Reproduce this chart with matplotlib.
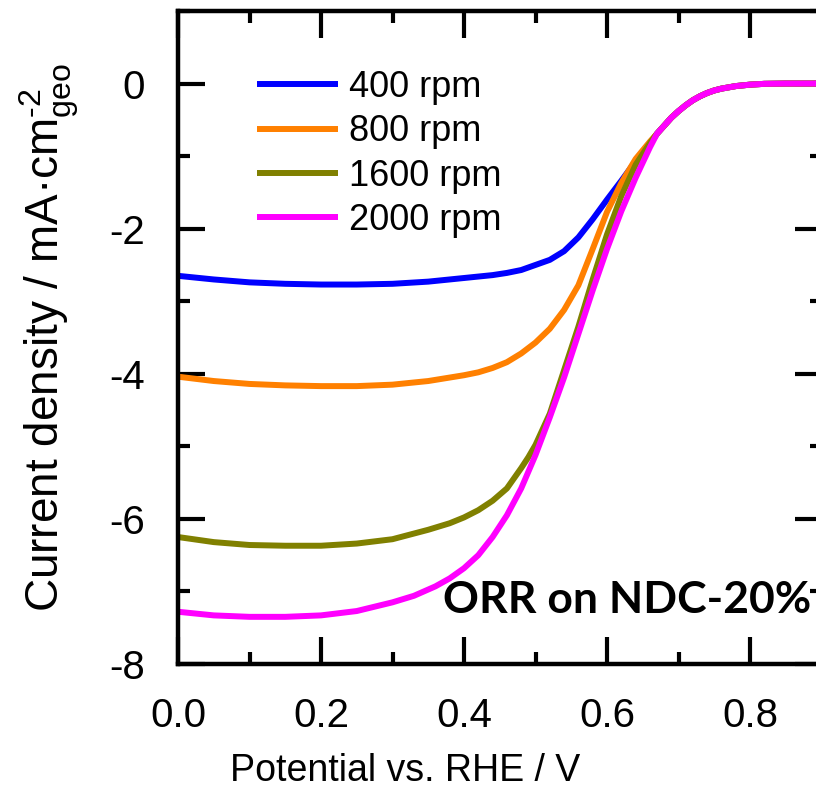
"""ORR polarisation curves on NDC-20% at several rotation rates"""

import numpy as np
import matplotlib
matplotlib.use('Agg')
import matplotlib.pyplot as plt

plt.rcParams['font.family'] = ['Liberation Sans', 'DejaVu Sans']
plt.rcParams['axes.unicode_minus'] = False
plt.rcParams['mathtext.fontset'] = 'custom'
plt.rcParams['mathtext.rm'] = 'Liberation Sans'
plt.rcParams['mathtext.it'] = 'Liberation Sans:italic'

# Potential (V vs RHE) and current density (mA/cm2).
# Above ~0.66 V all four curves lie on top of each other (shared tail).
v_tail = [0.67, 0.68, 0.69, 0.70, 0.71, 0.72, 0.73, 0.74, 0.75, 0.76, 0.78, 0.80, 0.82, 0.85, 0.90]
j_tail = [-0.69, -0.58, -0.47, -0.38, -0.30, -0.23, -0.175, -0.13, -0.095, -0.07, -0.035,
          -0.015, -0.004, 0.0, 0.0]

v_400 = [0.0, 0.05, 0.1, 0.15, 0.2, 0.25, 0.3, 0.35, 0.4, 0.42, 0.44, 0.46, 0.48, 0.50,
         0.52, 0.54, 0.56, 0.58, 0.60, 0.62, 0.64, 0.66]
j_400 = [-2.65, -2.70, -2.74, -2.76, -2.77, -2.77, -2.76, -2.73, -2.68, -2.66, -2.64, -2.61,
         -2.57, -2.50, -2.43, -2.31, -2.12, -1.87, -1.60, -1.34, -1.07, -0.83]

v_800 = [0.0, 0.05, 0.1, 0.15, 0.2, 0.25, 0.3, 0.35, 0.4, 0.42, 0.44, 0.46, 0.48, 0.50,
         0.52, 0.54, 0.55, 0.56, 0.58, 0.60, 0.62, 0.64, 0.66]
j_800 = [-4.04, -4.10, -4.14, -4.16, -4.17, -4.17, -4.15, -4.10, -4.02, -3.98, -3.92, -3.84,
         -3.72, -3.57, -3.38, -3.12, -2.95, -2.78, -2.28, -1.77, -1.37, -1.04, -0.80]

v_1600 = [0.0, 0.05, 0.1, 0.15, 0.2, 0.25, 0.3, 0.35, 0.38, 0.40, 0.42, 0.44, 0.46, 0.48,
          0.49, 0.50, 0.52, 0.54, 0.56, 0.58, 0.60, 0.62, 0.64, 0.66]
j_1600 = [-6.25, -6.32, -6.36, -6.37, -6.37, -6.34, -6.28, -6.15, -6.06, -5.98, -5.88, -5.75,
          -5.58, -5.30, -5.15, -4.98, -4.55, -3.95, -3.35, -2.70, -2.08, -1.55, -1.12, -0.82]

v_2000 = [0.0, 0.05, 0.1, 0.15, 0.2, 0.25, 0.3, 0.33, 0.36, 0.38, 0.40, 0.42, 0.44, 0.46,
          0.48, 0.50, 0.52, 0.54, 0.56, 0.58, 0.60, 0.62, 0.64, 0.66]
j_2000 = [-7.28, -7.33, -7.35, -7.35, -7.33, -7.27, -7.15, -7.06, -6.93, -6.82, -6.68, -6.50,
          -6.25, -5.95, -5.58, -5.12, -4.60, -4.05, -3.45, -2.85, -2.28, -1.76, -1.30, -0.88]

labels = ['400 rpm', '800 rpm', '1600 rpm', '2000 rpm']
colors = ['#0000ff', '#ff8000', '#808000', '#ff00ff']

W, H = 816, 791
fig = plt.figure(figsize=(W / 100, H / 100), dpi=100)
# axes runs past the right edge of the picture, as in the original crop
ax = fig.add_axes([178 / W, 127 / H, 643.5 / W, 653 / H])

for v, j, lab, c in zip([v_400, v_800, v_1600, v_2000],
                        [j_400, j_800, j_1600, j_2000], labels, colors):
    ax.plot(v + v_tail, j + j_tail, color=c, lw=4.3, label=lab,
            solid_capstyle='butt', solid_joinstyle='round')

ax.set_xlim(0, 0.9)
ax.set_ylim(-8, 1)
ax.set_xticks(np.arange(0, 0.81, 0.2))
ax.set_xticks(np.arange(0.1, 0.9, 0.2), minor=True)
ax.set_yticks([0, -2, -4, -6, -8])
ax.set_yticks([1, -1, -3, -5, -7], minor=True)
ax.set_xticklabels(['0.0', '0.2', '0.4', '0.6', '0.8'])

for s in ax.spines.values():
    s.set_linewidth(3.2)
ax.tick_params(which='both', direction='in', top=True, right=True, width=3)
ax.tick_params(which='major', length=19.5)
ax.tick_params(which='minor', length=8.5)
ax.tick_params(axis='x', which='major', pad=24, labelsize=29)
ax.tick_params(axis='y', which='major', pad=24, labelsize=29)

ax.set_xlabel('Potential vs. RHE / V', fontsize=27)
ax.xaxis.set_label_coords(0.353, -0.136)
ax.set_ylabel(r'Current density / mA·cm$^{\text{-}2}_{\mathrm{geo}}$', fontsize=33)
ax.yaxis.set_label_coords(-0.15, 0.5)

ax.legend(loc='upper left', bbox_to_anchor=(0.123, 0.910), frameon=False,
          fontsize=26, handlelength=2.25, handletextpad=0.3,
          labelspacing=0.26, borderpad=0, borderaxespad=0)

ax.text(0.412, 0.078, 'ORR on NDC-20%', transform=ax.transAxes, fontsize=32,
        fontweight='bold', family=['Lato', 'DejaVu Sans'], va='baseline')

fig.savefig('out.png', dpi=100)
